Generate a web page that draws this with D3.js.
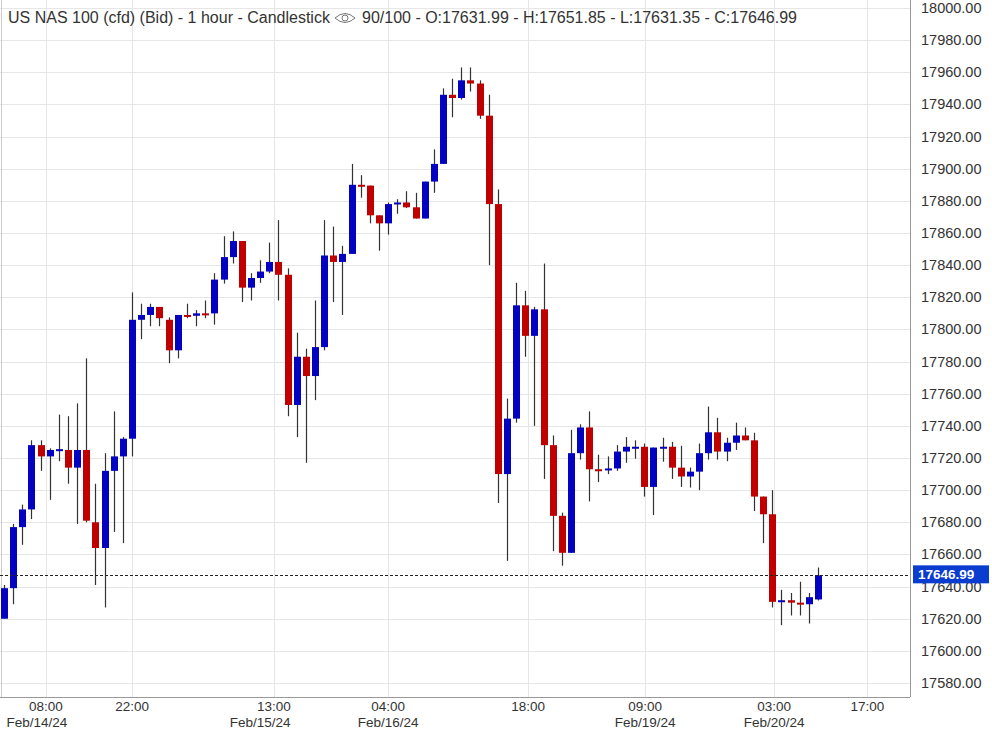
<!DOCTYPE html>
<html><head><meta charset="utf-8">
<script src="https://cdn.jsdelivr.net/npm/d3@7"></script>
<style>body{margin:0;background:#fff;font-family:"Liberation Sans",Arial,sans-serif;}</style>
</head><body><svg id="chart" width="992" height="730"></svg>
<script>
var opens = [17620,17639,17677,17688,17728,17721,17725,17725,17714,17725,17680,17664,17712,17721,17732,
  17806,17809,17814,17806,17787,17809,17808.5,17810,17810,17831,17845,17855,17826,17832,17836,
  17842,17834,17753,17783,17771,17789,17846,17842,17847,17890,17889.5,17871,17866,17878,17879,
  17876,17869,17892,17903,17946,17944,17955,17953,17933,17878,17710,17744.5,17815,17796,17812.5,
  17728,17684,17661,17723,17739,17713,17712.5,17713.5,17724,17727,17727,17702,17726.5,17727,
  17714,17708.5,17711.5,17723,17736,17724,17729.5,17734,17731,17696,17685,17630.5,17631.5,17630,17629,17631.99];
var closes = [17639,17677,17688,17728,17721,17725,17725.5,17714,17725,17681,17664,17712,17721,17732,17806,
  17809,17814,17807,17787,17809,17808.5,17810,17809.5,17831,17845,17855,17826,17832,17836,17842,
  17834,17753,17783,17771,17789,17846,17842,17847,17890,17889.5,17871,17866,17878,17879,17876,
  17869,17892,17903,17946,17944,17955,17953,17933,17878,17710,17744.5,17815,17796,17812.5,17728,
  17684,17661,17723,17739,17713,17712.5,17713.5,17724,17727,17727,17702,17726.5,17727,17714,
  17708.5,17711.5,17723,17736,17724,17729.5,17734,17731,17696,17685,17630.5,17631.5,17630,17629,17633.4,17646.99];
var highs = [17641,17679,17691,17731,17731,17726,17747,17746,17754,17782,17704,17723,17749,17733,17823,
  17816,17816,17814,17807.5,17809,17816,17812,17818,17835,17858,17861,17855,17835,17843,17854,
  17868,17838,17798,17788,17818,17868,17864,17852,17903,17896,17889.5,17871,17879,17881,17886,
  17885,17892,17912,17950,17956,17963,17963,17955,17946,17887,17757,17829,17824,17814,17841,
  17734,17686,17737.5,17741,17749,17722,17721,17728,17733,17731,17729,17726.5,17732.6,17730,
  17727.6,17714,17729,17752,17745,17732.6,17742,17739,17735.7,17696,17700,17638,17636,17643,17636,17651.85];
var lows = [17620,17629,17666,17682,17712,17694,17718,17704,17679,17680,17641,17627,17674,17667,17721,
  17794,17802,17802,17779,17782,17807,17802,17807,17803,17828.5,17841,17817,17818,17829,17835,
  17818,17746,17733,17717,17756,17787,17817,17809,17847,17882,17866,17849,17859,17872,17875.5,
  17869,17869,17885,17903,17932,17943,17948,17931,17840,17692,17656,17742,17783,17740,17707,
  17662,17653,17661,17719,17693,17705,17710,17712,17717,17719.6,17696,17684.5,17717.7,17707,
  17702,17701.6,17700,17719,17719,17718,17725,17731,17687,17667,17627,17616,17622,17622,17617,17631.35];
var priceTicks = d3.range(17580, 18001, 20);
var timeLabels = ["08:00","22:00","13:00","04:00","18:00","09:00","03:00","17:00"];
var timeIdx = [4.59,14.0,29.5,42.0,57.3,70.1,84.2,94.4];
var dateLabels = ["Feb/14/24","Feb/15/24","Feb/16/24","Feb/19/24","Feb/20/24"];
var dateIdx = [3.6,28.0,42.0,70.1,84.2];
var lastPrice = 17646.99;

var svg = d3.select("#chart");
var plotW = 910, plotH = 697;
var x = d3.scaleLinear().domain([0, opens.length - 1]).range([4, 818]);
var y = d3.scaleLinear().domain([17580, 18000]).range([683, 8]);

var grid = svg.append("g").attr("stroke", "#e6e6e6").attr("stroke-width", 1);
grid.selectAll(".h").data(priceTicks).enter().append("line")
  .attr("x1", 0).attr("x2", plotW)
  .attr("y1", function (d) { return Math.round(y(d)) + 0.5; })
  .attr("y2", function (d) { return Math.round(y(d)) + 0.5; });
grid.selectAll(".v").data(timeIdx).enter().append("line")
  .attr("y1", 0).attr("y2", plotH)
  .attr("x1", function (d) { return Math.round(x(d)) + 0.5; })
  .attr("x2", function (d) { return Math.round(x(d)) + 0.5; });

// axes frame
svg.append("line").attr("x1", plotW + 0.5).attr("x2", plotW + 0.5).attr("y1", 0).attr("y2", plotH).attr("stroke", "#999");
svg.append("line").attr("x1", 0).attr("x2", plotW).attr("y1", plotH + 0.5).attr("y2", plotH + 0.5).attr("stroke", "#999");
svg.append("line").attr("x1", 1.5).attr("x2", 1.5).attr("y1", 0).attr("y2", plotH).attr("stroke", "#ccc");

svg.selectAll(".pt").data(priceTicks).enter().append("text")
  .attr("x", 921).attr("y", function (d) { return y(d) + 5; })
  .attr("font-size", 14.5).attr("fill", "#333")
  .text(function (d) { return d.toFixed(2); });

svg.selectAll(".tt").data(timeLabels).enter().append("text")
  .attr("x", function (d, i) { return x(timeIdx[i]); }).attr("y", 711)
  .attr("text-anchor", "middle").attr("font-size", 13.5).attr("fill", "#333")
  .text(function (d) { return d; });
svg.selectAll(".dt").data(dateLabels).enter().append("text")
  .attr("x", function (d, i) { return x(dateIdx[i]); }).attr("y", 727)
  .attr("text-anchor", "middle").attr("font-size", 13.5).attr("fill", "#333")
  .text(function (d) { return d; });

// candles
var idx = d3.range(opens.length);
var c = svg.append("g").selectAll("g").data(idx).enter().append("g");
c.append("line")
  .attr("x1", function (i) { return Math.round(x(i)) + 0.5; })
  .attr("x2", function (i) { return Math.round(x(i)) + 0.5; })
  .attr("y1", function (i) { return y(highs[i]); })
  .attr("y2", function (i) { return y(lows[i]); })
  .attr("stroke", "#333").attr("stroke-width", 1.2);
c.append("rect")
  .attr("x", function (i) { return Math.round(x(i)) - 3; })
  .attr("width", 7)
  .attr("y", function (i) { return y(Math.max(opens[i], closes[i])); })
  .attr("height", function (i) { return Math.max(2, Math.abs(y(opens[i]) - y(closes[i]))); })
  .attr("fill", function (i) { return closes[i] >= opens[i] ? "#0202c0" : "#c00000"; });

// last price line and tag
svg.append("line").attr("x1", 0).attr("x2", plotW)
  .attr("y1", Math.round(y(lastPrice)) + 0.5).attr("y2", Math.round(y(lastPrice)) + 0.5)
  .attr("stroke", "#222").attr("stroke-dasharray", "3,2");
svg.append("rect").attr("x", 913).attr("y", y(lastPrice) - 10).attr("width", 76).attr("height", 18).attr("fill", "#0a3cd0");
svg.append("text").attr("x", 918).attr("y", y(lastPrice) + 4).attr("font-size", 13.5).attr("font-weight", "bold")
  .attr("fill", "#fff").text(lastPrice.toFixed(2));

// title
var t = svg.append("g").attr("font-size", 16).attr("fill", "#333");
t.append("text").attr("x", 8).attr("y", 23).text("US NAS 100 (cfd) (Bid) - 1 hour - Candlestick");
var eye = svg.append("g").attr("transform", "translate(345,18)").attr("fill", "none").attr("stroke", "#777").attr("stroke-width", 1);
eye.append("path").attr("d", "M-10,0 Q0,-9 10,0 Q0,9 -10,0 Z");
eye.append("circle").attr("r", 3);
t.append("text").attr("x", 362).attr("y", 23).text("90/100 - O:17631.99 - H:17651.85 - L:17631.35 - C:17646.99");
</script></body></html>
